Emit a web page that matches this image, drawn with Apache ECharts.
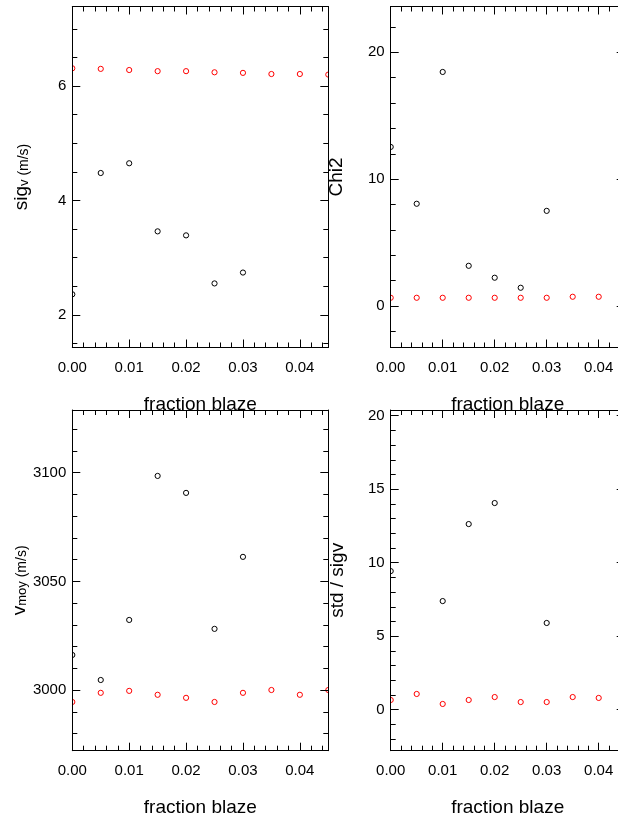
<!DOCTYPE html>
<html>
<head>
<meta charset="utf-8">
<script src="https://cdn.jsdelivr.net/npm/echarts@6/dist/echarts.min.js"></script>
<style>
html,body{margin:0;padding:0;background:#fff;}
#chart{width:618px;height:818px;}
</style>
</head>
<body>
<div id="chart"></div>
<script>
// ---------- data ----------
const fracBlack = [0.000, 0.005, 0.010, 0.015, 0.020, 0.025, 0.030];
const fracRed   = [0.000, 0.005, 0.010, 0.015, 0.020, 0.025, 0.030, 0.035, 0.040, 0.045];

const sigvBlack = [2.36, 4.48, 4.65, 3.46, 3.39, 2.55, 2.74];
const sigvRed   = [6.31, 6.30, 6.28, 6.26, 6.26, 6.24, 6.23, 6.21, 6.21, 6.20];

const chi2Black = [12.54, 8.06, 18.45, 3.17, 2.23, 1.44, 7.50];
const chi2Red   = [0.65, 0.65, 0.65, 0.65, 0.65, 0.65, 0.65, 0.73, 0.73];

const vmoyBlack = [3016.2, 3004.7, 3032.3, 3098.5, 3090.7, 3028.2, 3061.3];
const vmoyRed   = [2994.6, 2998.8, 2999.7, 2997.9, 2996.5, 2994.6, 2998.8, 3000.1, 2997.9, 3000.1];

const stdBlack  = [9.43, null, 7.39, 12.63, 14.06, null, 5.90];
const stdRed    = [0.66, 1.07, 0.39, 0.66, 0.86, 0.52, 0.52, 0.86, 0.80];

// ---------- ticks ----------
const xTicks  = [0, 0.01, 0.02, 0.03, 0.04];
const xLabels = ['0.00', '0.01', '0.02', '0.03', '0.04'];

const sigvTicks = [2, 4, 6];           const sigvLabels = ['2', '4', '6'];
const chi2Ticks = [0, 10, 20];         const chi2Labels = ['0', '10', '20'];
const vmoyTicks = [3000, 3050, 3100];  const vmoyLabels = ['3000', '3050', '3100'];
const stdTicks  = [0, 5, 10, 15, 20];  const stdLabels  = ['0', '5', '10', '15', '20'];

// ---------- layout / style ----------
const FONT = '"Liberation Sans", Arial, Helvetica, sans-serif';
const AXC = '#000';
const panels = [
  { rect: {left: 72.3, top: 6.5, width: 256, height: 341},
    x: [0, 0.045], y: [1.43, 7.39], yMinor: 0.5, xMinor: 0.002,
    yTicks: sigvTicks, yLabels: sigvLabels,
    yName: '{a|sig}{b|v}{c| (m/s)}', yGap: 41,
    black: [fracBlack, sigvBlack], red: [fracRed, sigvRed] },
  { rect: {left: 390.7, top: 6.5, width: 234, height: 341},
    x: [0, 0.045], y: [-3.27, 23.61], yMinor: 2, xMinor: 0.002,
    yTicks: chi2Ticks, yLabels: chi2Labels,
    yName: '{a|Chi2}', yGap: 44,
    black: [fracBlack, chi2Black], red: [fracRed, chi2Red] },
  { rect: {left: 72.3, top: 410, width: 256, height: 340.7},
    x: [0, 0.045], y: [2972.2, 3128.8], yMinor: 10, xMinor: 0.002,
    yTicks: vmoyTicks, yLabels: vmoyLabels,
    yName: '{a|v}{b|moy}{c| (m/s)}', yGap: 38,
    black: [fracBlack, vmoyBlack], red: [fracRed, vmoyRed] },
  { rect: {left: 390.7, top: 410, width: 234, height: 340.7},
    x: [0, 0.045], y: [-2.79, 20.39], yMinor: 1, xMinor: 0.002,
    yTicks: stdTicks, yLabels: stdLabels,
    yName: '{a|std / sigv}', yGap: 43,
    black: [fracBlack, stdBlack], red: [fracRed, stdRed] }
];

function minorList(ext, step) {
  const out = [];
  const k0 = Math.ceil(ext[0] / step - 1e-9), k1 = Math.floor(ext[1] / step + 1e-9);
  for (let k = k0; k <= k1; k++) out.push(+(k * step).toFixed(6));
  return out;
}
function labelFor(ticks, labels) {
  return function (v) {
    let best = 0;
    for (let i = 1; i < ticks.length; i++) if (Math.abs(ticks[i] - v) < Math.abs(ticks[best] - v)) best = i;
    return labels[best];
  };
}
function pairs(xs, ys) {
  const out = [];
  for (let i = 0; i < ys.length; i++) if (ys[i] !== null && ys[i] !== undefined) out.push([xs[i], ys[i]]);
  return out;
}

const richName = {
  a: {fontSize: 19, fontFamily: FONT, color: '#000', lineHeight: 24, verticalAlign: 'bottom'},
  b: {fontSize: 13, fontFamily: FONT, color: '#000', lineHeight: 11, verticalAlign: 'bottom'},
  c: {fontSize: 14, fontFamily: FONT, color: '#000', lineHeight: 19, verticalAlign: 'bottom'}
};

const grids = [], xAxes = [], yAxes = [], series = [];
panels.forEach((p, gi) => {
  grids.push(Object.assign({containLabel: false, outerBoundsMode: 'none'}, p.rect));
  const line = {show: true, onZero: false, lineStyle: {color: AXC, width: 1}};
  const noLine = {show: false, onZero: false};
  const xMin = minorList(p.x, p.xMinor), yMin = minorList(p.y, p.yMinor);
  const baseX = {gridIndex: gi, type: 'value', min: p.x[0], max: p.x[1], splitLine: {show: false}, z: 5};
  const baseY = {gridIndex: gi, type: 'value', min: p.y[0], max: p.y[1], splitLine: {show: false}, z: 5};
  xAxes.push(Object.assign({}, baseX, {
    position: 'bottom', axisLine: line,
    axisTick: {show: true, inside: true, length: 8, customValues: xTicks, lineStyle: {color: AXC, width: 1}},
    axisLabel: {show: true, customValues: xTicks, formatter: labelFor(xTicks, xLabels), margin: 13,
                fontSize: 15, fontFamily: FONT, color: '#000'},
    name: 'fraction blaze', nameLocation: 'middle', nameGap: 48,
    nameTextStyle: {fontSize: 19, fontFamily: FONT, color: '#000'}
  }));
  xAxes.push(Object.assign({}, baseX, {
    position: 'bottom', axisLine: noLine,
    axisTick: {show: true, inside: true, length: 5, customValues: xMin, lineStyle: {color: AXC, width: 1}},
    axisLabel: {show: false}
  }));
  xAxes.push(Object.assign({}, baseX, {
    position: 'top', axisLine: line,
    axisTick: {show: true, inside: true, length: 8, customValues: xTicks, lineStyle: {color: AXC, width: 1}},
    axisLabel: {show: false}
  }));
  xAxes.push(Object.assign({}, baseX, {
    position: 'top', axisLine: noLine,
    axisTick: {show: true, inside: true, length: 5, customValues: xMin, lineStyle: {color: AXC, width: 1}},
    axisLabel: {show: false}
  }));
  yAxes.push(Object.assign({}, baseY, {
    position: 'left', axisLine: line,
    axisTick: {show: true, inside: true, length: 8, customValues: p.yTicks, lineStyle: {color: AXC, width: 1}},
    axisLabel: {show: true, customValues: p.yTicks, formatter: labelFor(p.yTicks, p.yLabels), margin: 6,
                fontSize: 15, fontFamily: FONT, color: '#000'},
    name: p.yName, nameLocation: 'middle', nameRotate: 90, nameGap: p.yGap,
    nameTextStyle: {fontFamily: FONT, color: '#000', rich: richName}
  }));
  yAxes.push(Object.assign({}, baseY, {
    position: 'left', axisLine: noLine,
    axisTick: {show: true, inside: true, length: 5, customValues: yMin, lineStyle: {color: AXC, width: 1}},
    axisLabel: {show: false}
  }));
  yAxes.push(Object.assign({}, baseY, {
    position: 'right', axisLine: line,
    axisTick: {show: true, inside: true, length: 8, customValues: p.yTicks, lineStyle: {color: AXC, width: 1}},
    axisLabel: {show: false}
  }));
  yAxes.push(Object.assign({}, baseY, {
    position: 'right', axisLine: noLine,
    axisTick: {show: true, inside: true, length: 5, customValues: yMin, lineStyle: {color: AXC, width: 1}},
    axisLabel: {show: false}
  }));

  const mk = (d, color) => ({
    type: 'custom', xAxisIndex: gi * 4, yAxisIndex: gi * 4, coordinateSystem: 'cartesian2d',
    data: pairs(d[0], d[1]), clip: true, silent: true, z: 3,
    encode: {x: 0, y: 1},
    renderItem: function (params, api) {
      const pt = api.coord([api.value(0), api.value(1)]);
      return {type: 'circle', shape: {cx: pt[0], cy: pt[1], r: 2.6},
              style: {fill: null, stroke: color, lineWidth: 1}};
    }
  });
  series.push(mk(p.black, '#000'));
  series.push(mk(p.red, '#ff0000'));
});

const chart = echarts.init(document.getElementById('chart'), null, {renderer: 'canvas'});
chart.setOption({
  animation: false,
  backgroundColor: '#fff',
  grid: grids,
  xAxis: xAxes,
  yAxis: yAxes,
  series: series
});
</script>
</body>
</html>
